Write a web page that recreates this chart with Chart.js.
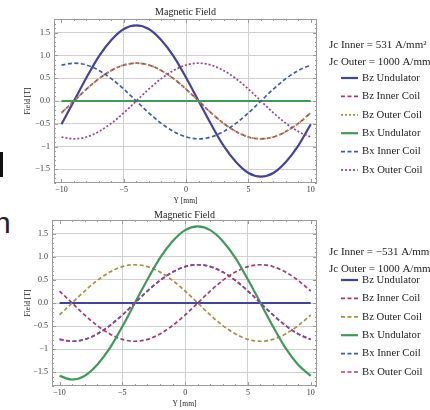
<!DOCTYPE html>
<html lang="en">
<head>
    <meta charset="UTF-8">
    <title>Magnetic Field</title>
    <style>
        body {
            margin: 0;
            width: 430px;
            height: 410px;
            background: #fff;
            position: relative;
            overflow: hidden;
        }
        canvas {
            position: absolute;
            left: 0;
        }
        #topChart { top: 0; }
        #bottomChart { top: 205px; }
        .edge-bar {
            position: absolute;
            left: 0;
            top: 152px;
            width: 3px;
            height: 25px;
            background: #111;
        }
        .edge-letter {
            position: absolute;
            left: -6px;
            top: 206px;
            font: 30px 'Liberation Sans', sans-serif;
            color: #222;
        }
    </style>
    <script src="https://cdn.jsdelivr.net/npm/chart.js"></script>
</head>
<body>
    <div class="edge-bar"></div>
    <div class="edge-letter">n</div>
    <canvas id="topChart" width="430" height="205"></canvas>
    <canvas id="bottomChart" width="430" height="205"></canvas>

    <script>
        // Y position [mm]
        const positions = [-10, -9, -8, -7, -6, -5, -4, -3, -2, -1, 0, 1, 2, 3, 4, 5, 6, 7, 8, 9, 10];

        // Jc inner = 531 A/mm2
        const bzUndTop   = [-0.51, 0, 0.51, 0.98, 1.34, 1.58, 1.66, 1.58, 1.34, 0.98, 0.51, 0, -0.51, -0.98, -1.34, -1.58, -1.66, -1.58, -1.34, -0.98, -0.51];
        const bzInnerTop = [-0.26, 0, 0.26, 0.49, 0.67, 0.79, 0.83, 0.79, 0.67, 0.49, 0.26, 0, -0.26, -0.49, -0.67, -0.79, -0.83, -0.79, -0.67, -0.49, -0.26];
        const bzOuterTop = [-0.26, 0, 0.26, 0.49, 0.67, 0.79, 0.83, 0.79, 0.67, 0.49, 0.26, 0, -0.26, -0.49, -0.67, -0.79, -0.83, -0.79, -0.67, -0.49, -0.26];
        const bxUndTop   = [0, 0, 0, 0, 0, 0, 0, 0, 0, 0, 0, 0, 0, 0, 0, 0, 0, 0, 0, 0, 0];
        const bxInnerTop = [0.79, 0.83, 0.79, 0.67, 0.49, 0.26, 0, -0.26, -0.49, -0.67, -0.79, -0.83, -0.79, -0.67, -0.49, -0.26, 0, 0.26, 0.49, 0.67, 0.79];
        const bxOuterTop = [-0.79, -0.83, -0.79, -0.67, -0.49, -0.26, 0, 0.26, 0.49, 0.67, 0.79, 0.83, 0.79, 0.67, 0.49, 0.26, 0, -0.26, -0.49, -0.67, -0.79];

        // Jc inner = -531 A/mm2
        const bzUndBot   = [0, 0, 0, 0, 0, 0, 0, 0, 0, 0, 0, 0, 0, 0, 0, 0, 0, 0, 0, 0, 0];
        const bzInnerBot = [0.26, 0, -0.26, -0.49, -0.67, -0.79, -0.83, -0.79, -0.67, -0.49, -0.26, 0, 0.26, 0.49, 0.67, 0.79, 0.83, 0.79, 0.67, 0.49, 0.26];
        const bzOuterBot = [-0.26, 0, 0.26, 0.49, 0.67, 0.79, 0.83, 0.79, 0.67, 0.49, 0.26, 0, -0.26, -0.49, -0.67, -0.79, -0.83, -0.79, -0.67, -0.49, -0.26];
        const bxUndBot   = [-1.58, -1.66, -1.58, -1.34, -0.98, -0.51, 0, 0.51, 0.98, 1.34, 1.58, 1.66, 1.58, 1.34, 0.98, 0.51, 0, -0.51, -0.98, -1.34, -1.58];
        const bxInnerBot = [-0.79, -0.83, -0.79, -0.67, -0.49, -0.26, 0, 0.26, 0.49, 0.67, 0.79, 0.83, 0.79, 0.67, 0.49, 0.26, 0, -0.26, -0.49, -0.67, -0.79];
        const bxOuterBot = [-0.79, -0.83, -0.79, -0.67, -0.49, -0.26, 0, 0.26, 0.49, 0.67, 0.79, 0.83, 0.79, 0.67, 0.49, 0.26, 0, -0.26, -0.49, -0.67, -0.79];

        const seriesLabels = ['Bz Undulator', 'Bz Inner Coil', 'Bz Outer Coil', 'Bx Undulator', 'Bx Inner Coil', 'Bx Outer Coil'];
        const seriesColors = ['#43429f', '#9c3d72', '#a8903f', '#3f9a58', '#3f5d9e', '#9a3f93'];

        const SERIF = "'Liberation Serif', 'DejaVu Serif', serif";
        const DASH = [4, 2.5];
        const DOT = [2, 2];

        function isMultiple(v, step) {
            const q = v / step;
            return Math.abs(q - Math.round(q)) < 1e-6;
        }

        function fmt(v) {
            return v < 0 ? '\u2212' + Math.abs(v) : String(v);
        }

        function makeDatasets(values, dashes) {
            return values.map((vals, i) => ({
                label: seriesLabels[i],
                data: positions.map((x, k) => ({ x: x, y: vals[k] })),
                borderColor: seriesColors[i],
                borderWidth: dashes[i] ? 1.7 : 2.2,
                borderDash: dashes[i] || [],
                pointRadius: 0,
                fill: false,
                cubicInterpolationMode: 'monotone',
                order: -i
            }));
        }

        // frame, inward ticks, titles and the side legend
        const decor = {
            id: 'decor',
            afterDraw(chart, args, opts) {
                const ctx = chart.ctx;
                const a = chart.chartArea;
                const xs = chart.scales.x, ys = chart.scales.y;
                ctx.save();

                ctx.strokeStyle = '#9a9a9a';
                ctx.lineWidth = 1;
                ctx.strokeRect(a.left + 0.5, a.top + 0.5, a.right - a.left - 1, a.bottom - a.top - 1);

                ctx.beginPath();
                xs.ticks.forEach(t => {
                    const px = Math.round(xs.getPixelForValue(t.value)) + 0.5;
                    const len = isMultiple(t.value, 5) ? 4 : 2;
                    ctx.moveTo(px, a.bottom); ctx.lineTo(px, a.bottom - len);
                    ctx.moveTo(px, a.top); ctx.lineTo(px, a.top + len);
                });
                ys.ticks.forEach(t => {
                    const py = Math.round(ys.getPixelForValue(t.value)) + 0.5;
                    const len = isMultiple(t.value, 0.5) ? 4 : 2;
                    ctx.moveTo(a.left, py); ctx.lineTo(a.left + len, py);
                    ctx.moveTo(a.right, py); ctx.lineTo(a.right - len, py);
                });
                ctx.stroke();

                const cx = (a.left + a.right) / 2;
                ctx.fillStyle = '#222';
                ctx.textAlign = 'center';
                ctx.textBaseline = 'middle';
                ctx.font = '10px ' + SERIF;
                ctx.fillText('Magnetic Field', cx, opts.titleY);

                ctx.font = '7.5px ' + SERIF;
                ctx.fillText('Y [mm]', cx, a.bottom + 18);
                ctx.save();
                ctx.translate(28, (a.top + a.bottom) / 2);
                ctx.rotate(-Math.PI / 2);
                ctx.fillText('Field [T]', 0, 0);
                ctx.restore();

                ctx.textAlign = 'left';
                ctx.font = '11px ' + SERIF;
                ctx.fillText(opts.jcInner, 329, opts.jcY);
                ctx.fillText(opts.jcOuter, 329, opts.jcY + 17);

                ctx.font = '10.7px ' + SERIF;
                chart.data.datasets.forEach((ds, i) => {
                    const y = opts.legendY + i * 18.4;
                    ctx.strokeStyle = ds.borderColor;
                    ctx.lineWidth = ds.borderWidth;
                    ctx.setLineDash(ds.borderDash);
                    ctx.beginPath();
                    ctx.moveTo(341, y);
                    ctx.lineTo(358, y);
                    ctx.stroke();
                    ctx.setLineDash([]);
                    ctx.fillStyle = '#222';
                    ctx.fillText(ds.label, 362, y);
                });
                ctx.restore();
            }
        };

        function makeChart(id, values, dashes, area, legend) {
            const ctx = document.getElementById(id).getContext('2d');
            return new Chart(ctx, {
                type: 'line',
                data: { datasets: makeDatasets(values, dashes) },
                options: {
                    responsive: false,
                    animation: false,
                    devicePixelRatio: 1,
                    layout: { padding: { top: area.top, right: 430 - area.right, left: 0, bottom: 0 } },
                    plugins: {
                        legend: { display: false },
                        tooltip: { enabled: false },
                        decor: legend
                    },
                    scales: {
                        x: {
                            type: 'linear',
                            min: -10.6,
                            max: 10.5,
                            afterFit: s => { s.height = 205 - area.bottom; },
                            border: { display: false },
                            grid: {
                                drawTicks: false,
                                lineWidth: 1,
                                color: c => (isMultiple(c.tick.value, 5) && Math.abs(c.tick.value) < 10) ? '#cfcfcf' : 'rgba(0,0,0,0)'
                            },
                            ticks: {
                                stepSize: 1,
                                includeBounds: false,
                                autoSkip: false,
                                maxRotation: 0,
                                padding: 2,
                                color: '#333',
                                font: { family: SERIF, size: 8 },
                                callback: v => isMultiple(v, 5) ? fmt(v) : ''
                            }
                        },
                        y: {
                            min: -1.8,
                            max: 1.8,
                            afterFit: s => { s.width = area.left; },
                            border: { display: false },
                            grid: {
                                drawTicks: false,
                                lineWidth: 1,
                                color: c => isMultiple(c.tick.value, 0.5) ? '#cfcfcf' : 'rgba(0,0,0,0)'
                            },
                            ticks: {
                                stepSize: 0.1,
                                includeBounds: false,
                                autoSkip: false,
                                padding: 4,
                                color: '#333',
                                font: { family: SERIF, size: 8 },
                                callback: v => isMultiple(v, 0.5) ? fmt(Number(v).toFixed(1)) : ''
                            }
                        }
                    }
                },
                plugins: [decor]
            });
        }

        makeChart('topChart',
            [bzUndTop, bzInnerTop, bzOuterTop, bxUndTop, bxInnerTop, bxOuterTop],
            [null, DASH, DOT, null, DASH, DOT],
            { left: 54, right: 317, top: 19, bottom: 183 },
            { jcInner: 'Jc Inner = 531 A/mm\u00b2', jcOuter: 'Jc Outer = 1000 A/mm\u00b2', jcY: 45, legendY: 78, titleY: 12 });

        makeChart('bottomChart',
            [bzUndBot, bzInnerBot, bzOuterBot, bxUndBot, bxInnerBot, bxOuterBot],
            [null, DASH, DASH, null, DASH, DASH],
            { left: 52, right: 317, top: 15, bottom: 181 },
            { jcInner: 'Jc Inner = \u2212531 A/mm\u00b2', jcOuter: 'Jc Outer = 1000 A/mm\u00b2', jcY: 47, legendY: 75, titleY: 10 });
    </script>
</body>
</html>
